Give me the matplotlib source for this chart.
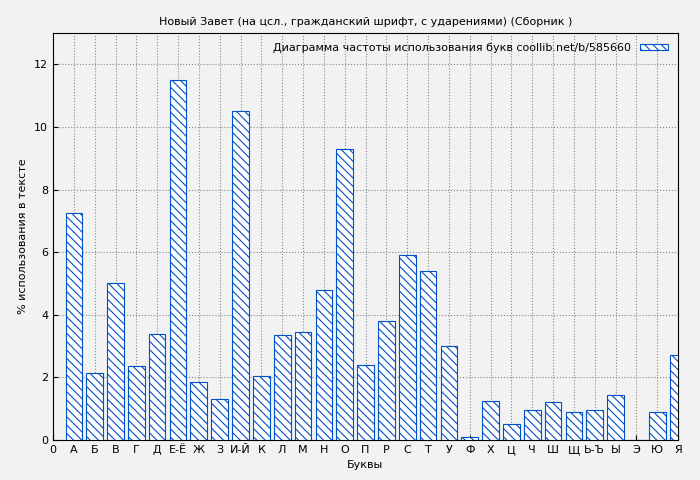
import matplotlib
matplotlib.use("Agg")
import matplotlib.pyplot as plt

letters = ["А","Б","В","Г","Д","Е-Ё","Ж","З","И-Й","К","Л","М","Н","О","П","Р","С","Т","У","Ф","Х","Ц","Ч","Ш","Щ","Ь-Ъ","Ы","Э","Ю","Я"]
values = [7.25,2.15,5.0,2.35,3.4,11.5,1.85,1.3,10.5,2.05,3.35,3.45,4.8,9.3,2.4,3.8,5.9,5.4,3.0,0.08,1.25,0.5,0.95,1.2,0.9,0.95,1.45,0.0,0.9,2.7]
tick_labels = ["0"] + letters

plt.rcParams['hatch.color'] = '#0050c8'
plt.rcParams['hatch.linewidth'] = 0.8
fig = plt.figure(figsize=(7, 4.8), dpi=100, facecolor='#f2f2f2')
ax = fig.add_axes([53/700, 40/480, 625/700, 407/480])
ax.set_facecolor('#f2f2f2')
pos = list(range(1, len(values) + 1))
ax.bar(pos, values, width=0.8, facecolor='white', edgecolor='#0050c8', hatch='\\\\\\\\', linewidth=0.8,
       label='Диаграмма частоты использования букв coollib.net/b/585660', zorder=3)
ax.set_xlim(0, 30)
ax.set_ylim(0, 13)
ax.set_xticks(range(0, 31))
ax.set_xticklabels(tick_labels, fontsize=8)
ax.set_yticks(range(0, 13, 2))
ax.tick_params(labelsize=8, direction='in')
ax.grid(True, color='#888888', linestyle=':', linewidth=0.8, zorder=0)
ax.set_xlabel('Буквы', fontsize=8)
ax.set_ylabel('% использования в тексте', fontsize=8)
ax.set_title('Новый Завет (на цсл., гражданский шрифт, с ударениями) (Сборник )', fontsize=8)
leg = ax.legend(loc='upper right', fontsize=8, frameon=False, handlelength=2.5, handleheight=0.4, markerfirst=False)
fig.savefig('out.png', dpi=100, facecolor=fig.get_facecolor())
